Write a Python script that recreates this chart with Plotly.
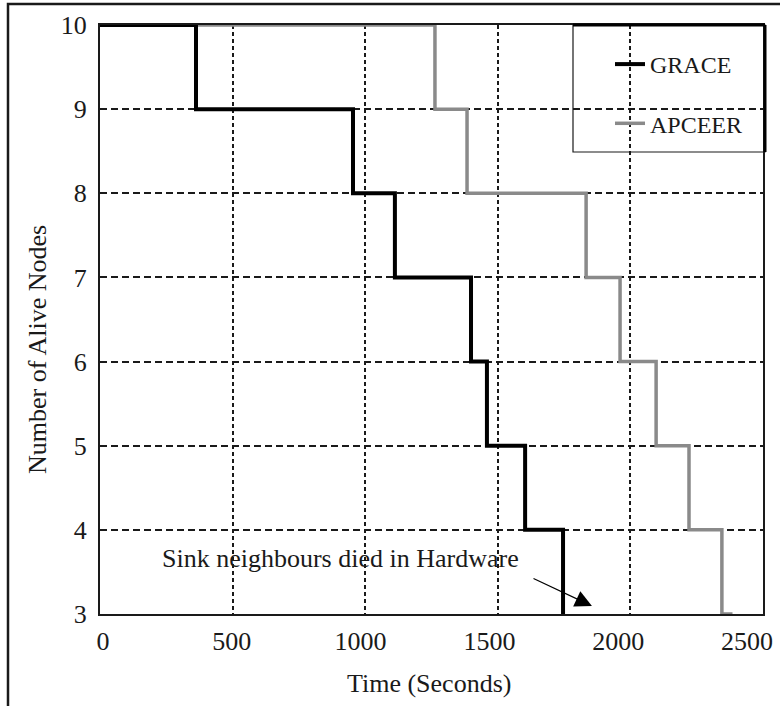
import plotly.graph_objects as go

# Data
grace_time = [0, 362, 954, 1112, 1399, 1459, 1603, 1746]
grace_nodes = [10, 9, 8, 7, 6, 5, 4, 3]
apceer_time = [0, 1263, 1384, 1833, 1961, 2097, 2221, 2345, 2385]
apceer_nodes = [10, 9, 8, 7, 6, 5, 4, 3, 3]
x_ticks = [0, 500, 1000, 1500, 2000, 2500]
y_ticks = [3, 4, 5, 6, 7, 8, 9, 10]

FONT = "Liberation Serif"
INK = "#1a1a1a"

fig = go.Figure()
fig.add_trace(go.Scatter(
    x=apceer_time, y=apceer_nodes, mode="lines", name="APCEER",
    line=dict(color="#8a8a8a", width=3.5, shape="hv"),
    legendgroup="b", legendrank=2,
))
fig.add_trace(go.Scatter(
    x=grace_time, y=grace_nodes, mode="lines", name="GRACE",
    line=dict(color="#000000", width=4, shape="hv"),
    legendgroup="a", legendrank=1,
))
# tick-label carrier for the (slightly offset) printed time labels
fig.add_trace(go.Scatter(
    x=[x_ticks[0], x_ticks[-1]], y=[y_ticks[0], y_ticks[0]], xaxis="x2",
    mode="none", showlegend=False, hoverinfo="skip",
))

W, H = 780, 706
L, R, T, B = 100, 17, 25, 92
pw, ph = W - L - R, H - T - B

def px(xp):
    return (xp - L) / pw

def py(yp):
    return (H - B - yp) / ph

fig.update_layout(
    width=W, height=H,
    margin=dict(l=L, r=R, t=T, b=B, autoexpand=False),
    paper_bgcolor="white", plot_bgcolor="white",
    font=dict(family=FONT, size=26, color=INK),
    showlegend=True,
    legend=dict(
        x=px(610), y=py(42), xanchor="left", yanchor="top",
        bgcolor="rgba(0,0,0,0)", borderwidth=0,
        font=dict(family=FONT, size=24, color=INK),
        traceorder="grouped", tracegroupgap=25,
    ),
    xaxis=dict(
        range=[0, 2500], tickvals=x_ticks, ticks="", showticklabels=False,
        showline=True, linecolor=INK, linewidth=2, mirror=True,
        showgrid=True, gridcolor=INK, gridwidth=1.5, griddash="4px,3px",
        zeroline=False, layer="below traces",
    ),
    xaxis2=dict(
        overlaying="x", anchor="y", side="bottom",
        range=[-11.6, 2562], tickvals=x_ticks, ticks="",
        showline=False, showgrid=False, zeroline=False,
        tickfont=dict(family=FONT, size=26, color=INK),
        ticklabelstandoff=9,
    ),
    yaxis=dict(
        range=[3, 10], tickvals=y_ticks, ticks="",
        showline=True, linecolor=INK, linewidth=2, mirror=True,
        showgrid=True, gridcolor=INK, gridwidth=1.5, griddash="7px,4px",
        zeroline=False, layer="below traces",
        tickfont=dict(family=FONT, size=26, color=INK),
        ticklabelstandoff=6,
    ),
)

# Axis titles
fig.add_annotation(
    text="Time (Seconds)", xref="paper", yref="paper",
    x=px(429), y=py(683), xanchor="center", yanchor="middle",
    showarrow=False, font=dict(family=FONT, size=26, color=INK),
)
fig.add_annotation(
    text="Number of Alive Nodes", xref="paper", yref="paper",
    x=px(37), y=py(350), xanchor="center", yanchor="middle", textangle=-90,
    showarrow=False, font=dict(family=FONT, size=26, color=INK),
)

# Callout annotation
fig.add_annotation(
    text="Sink neighbours died in Hardware", xref="x", yref="y",
    x=905, y=3.665, xanchor="center", yanchor="middle",
    showarrow=False, font=dict(family=FONT, size=26, color=INK),
)
fig.add_annotation(
    text="", xref="x", yref="y", axref="x", ayref="y",
    x=1855, y=3.095, ax=1629, ay=3.43,
    showarrow=True, arrowhead=2, arrowsize=2.8, arrowwidth=1.2, arrowcolor="#000",
)

# Legend box (thin left/bottom, thick top/right)
fig.add_shape(type="rect", xref="paper", yref="paper",
              x0=px(573), x1=px(765), y0=py(152), y1=py(25),
              line=dict(color=INK, width=1.2), fillcolor="rgba(0,0,0,0)")
fig.add_shape(type="line", xref="paper", yref="paper",
              x0=px(573), x1=px(765), y0=py(25), y1=py(25),
              line=dict(color="#000", width=3))
fig.add_shape(type="line", xref="paper", yref="paper",
              x0=px(765), x1=px(765), y0=py(152), y1=py(25),
              line=dict(color="#000", width=3))

# Outer frame (top and left visible)
fig.add_shape(type="path", xref="paper", yref="paper",
              path=f"M {px(8)},{py(H + 2)} L {px(8)},{py(4)} L {px(W + 2)},{py(4)}",
              line=dict(color=INK, width=2.5))

fig.write_html("out.html")
